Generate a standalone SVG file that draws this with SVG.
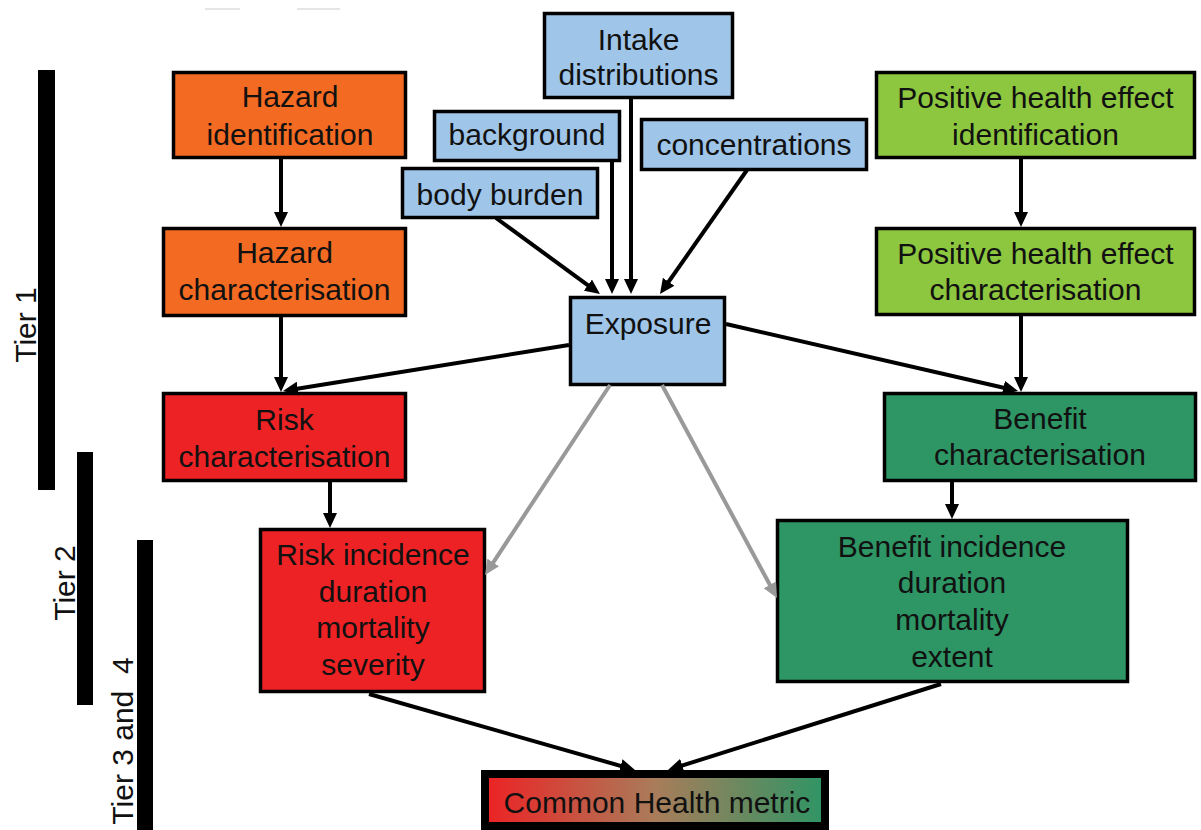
<svg xmlns="http://www.w3.org/2000/svg" width="1201" height="830" viewBox="0 0 1201 830">
<style>
text{font-family:"Liberation Sans",Arial,Helvetica,sans-serif;font-size:30px;fill:#111;text-anchor:middle}
.box{stroke:#000;stroke-width:3.5}
.orange{fill:#F36A22}
.red{fill:#ED2224}
.blue{fill:#9FC5E8}
.lgreen{fill:#8DC63F}
.dgreen{fill:#2E9565}
.bar{fill:#000}
.c{stroke:#000;stroke-width:4;fill:none;marker-end:url(#ah)}
.g{stroke:#999;stroke-width:4;fill:none;marker-end:url(#ahg)}
</style>
<defs>
<marker id="ah" markerUnits="userSpaceOnUse" viewBox="0 0 15 14" refX="7" refY="7" markerWidth="15" markerHeight="14" orient="auto">
<path d="M0,0 L15,7 L0,14 z" fill="#000"/>
</marker>
<marker id="ahg" markerUnits="userSpaceOnUse" viewBox="0 0 15 14" refX="7" refY="7" markerWidth="15" markerHeight="14" orient="auto">
<path d="M0,0 L15,7 L0,14 z" fill="#999"/>
</marker>
<linearGradient id="chm" x1="0" y1="0" x2="1" y2="0">
<stop offset="0" stop-color="#ED2224"/>
<stop offset="0.5" stop-color="#A97C5A"/>
<stop offset="1" stop-color="#2E9565"/>
</linearGradient>
</defs>
<rect width="1201" height="830" fill="#fff"/>
<g id="top-marks" stroke="#ddd" stroke-width="1.5">
<line x1="205" y1="9" x2="240" y2="9"/>
<line x1="297" y1="9" x2="340" y2="9"/>
</g>
<g id="tiers">
<rect class="bar" x="38" y="70" width="17" height="420"/>
<rect class="bar" x="77" y="452" width="16" height="253"/>
<rect class="bar" x="137" y="540" width="16" height="290"/>
<text transform="translate(36,325) rotate(-90)">Tier 1</text>
<text transform="translate(75,583) rotate(-90)">Tier 2</text>
<text transform="translate(133,741) rotate(-90)" xml:space="preserve">Tier 3 and  4</text>
</g>
<g id="hazard-identification">
<rect class="box orange" x="173.5" y="72.5" width="232" height="85"/>
<text x="290" y="107">Hazard</text>
<text x="290" y="145">identification</text>
</g>
<g id="hazard-characterisation">
<rect class="box orange" x="163.5" y="228.5" width="242" height="87"/>
<text x="284.5" y="263">Hazard</text>
<text x="284.5" y="300">characterisation</text>
</g>
<g id="risk-characterisation">
<rect class="box red" x="163.5" y="393.5" width="242" height="87"/>
<text x="284.5" y="430">Risk</text>
<text x="284.5" y="467">characterisation</text>
</g>
<g id="risk-incidence">
<rect class="box red" x="260.5" y="529.5" width="224" height="162"/>
<text x="373" y="565">Risk incidence</text>
<text x="373" y="602">duration</text>
<text x="373" y="638">mortality</text>
<text x="373" y="675">severity</text>
</g>
<g id="intake-distributions">
<rect class="box blue" x="544.5" y="13.5" width="188" height="84"/>
<text x="638.5" y="50">Intake</text>
<text x="638.5" y="85">distributions</text>
</g>
<g id="background">
<rect class="box blue" x="434.5" y="111.5" width="185" height="49"/>
<text x="527" y="145">background</text>
</g>
<g id="concentrations">
<rect class="box blue" x="641.5" y="119.5" width="225" height="50"/>
<text x="754" y="155">concentrations</text>
</g>
<g id="body-burden">
<rect class="box blue" x="402.5" y="168.5" width="195" height="49"/>
<text x="500" y="205">body burden</text>
</g>
<g id="exposure">
<rect class="box blue" x="570.5" y="297.5" width="154" height="87"/>
<text x="648" y="334">Exposure</text>
</g>
<g id="positive-health-effect-identification">
<rect class="box lgreen" x="876.5" y="72.5" width="318" height="85"/>
<text x="1035.5" y="108">Positive health effect</text>
<text x="1035.5" y="145">identification</text>
</g>
<g id="positive-health-effect-characterisation">
<rect class="box lgreen" x="876.5" y="228.5" width="318" height="86"/>
<text x="1035.5" y="264">Positive health effect</text>
<text x="1035.5" y="300">characterisation</text>
</g>
<g id="benefit-characterisation">
<rect class="box dgreen" x="884.5" y="393.5" width="311" height="87"/>
<text x="1040" y="429">Benefit</text>
<text x="1040" y="465">characterisation</text>
</g>
<g id="benefit-incidence">
<rect class="box dgreen" x="777.5" y="520.5" width="350" height="161"/>
<text x="952" y="557">Benefit incidence</text>
<text x="952" y="593">duration</text>
<text x="952" y="630">mortality</text>
<text x="952" y="667">extent</text>
</g>
<g id="common-health-metric">
<rect x="485" y="774" width="340" height="52" fill="url(#chm)" stroke="#000" stroke-width="8"/>
<text x="657" y="813">Common Health metric</text>
</g>
<g id="connectors">
<path class="c" d="M281,159 L281,219"/>
<path class="c" d="M281,316 L281,384"/>
<path class="c" d="M569,345 L290.9,389.7"/>
<path class="c" d="M726,324 L1010.2,389.2"/>
<path class="c" d="M1021,159 L1021,219"/>
<path class="c" d="M1021,316 L1021,384"/>
<path class="c" d="M330,482 L330,520"/>
<path class="c" d="M952,482 L952,511"/>
<path class="c" d="M496,218 L593.5,289.3"/>
<path class="c" d="M612,161 L612,286"/>
<path class="c" d="M631,99 L631,286"/>
<path class="c" d="M747,170 L664.6,287.5"/>
<path class="g" d="M610,385 L489.4,568.3"/>
<path class="g" d="M662,385 L773.2,591"/>
<path class="c" d="M369,694 L627.3,767.8"/>
<path class="c" d="M941,684 L675.6,767.6"/>
</g>
</svg>
